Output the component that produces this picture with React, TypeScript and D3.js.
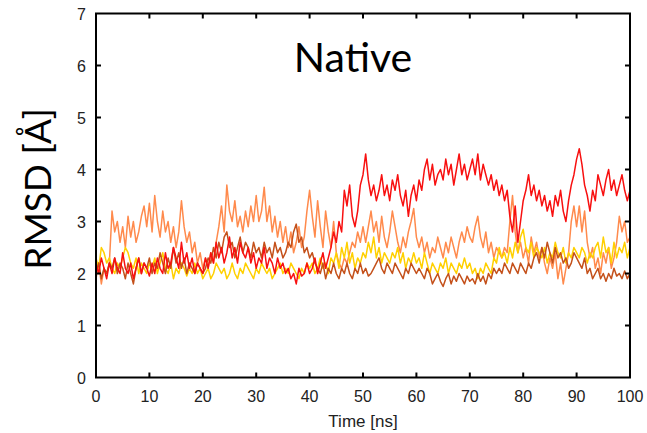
import React from "react";
import * as d3 from "d3";

const step = 0.5;
const xTicks = [0, 10, 20, 30, 40, 50, 60, 70, 80, 90, 100];
const yTicks = [0, 1, 2, 3, 4, 5, 6, 7];

const red = [
  2.2,2.0,2.3,2.1,1.9,2.2,2.0,2.3,2.1,2.0,2.4,2.1,2.0,2.2,1.9,2.1,2.3,2.0,2.2,2.1,1.95,
  2.2,2.0,2.3,2.1,2.0,2.4,2.1,2.2,2.5,2.3,2.1,2.6,2.2,2.4,2.1,2.3,2.0,2.2,2.1,2.0,
  2.3,2.1,2.4,2.2,2.6,2.3,2.5,2.2,2.4,2.7,2.3,2.5,2.2,2.6,2.4,2.3,2.5,2.2,2.4,2.1,
  2.3,2.2,2.5,2.1,2.3,2.2,2.0,2.3,2.1,2.2,2.0,2.1,1.9,2.0,1.8,2.1,1.95,2.0,2.2,2.0,
  2.1,2.3,2.0,2.2,2.4,2.1,2.3,2.5,2.8,2.6,3.0,2.8,3.6,3.3,3.7,3.1,2.9,3.2,3.7,3.9,
  4.3,3.8,3.5,3.7,3.4,3.6,3.9,3.5,3.7,3.4,3.8,3.6,3.9,3.5,3.3,3.6,3.1,3.5,3.7,3.4,
  3.8,3.6,4.0,4.2,3.8,4.1,3.7,3.9,4.0,3.8,4.2,3.9,4.1,3.7,4.0,4.3,3.9,4.1,3.8,4.0,
  4.2,3.9,4.3,3.8,4.1,3.9,3.7,3.9,3.6,3.8,3.5,3.7,3.4,3.6,3.1,2.8,3.3,2.6,3.0,3.4,
  3.6,3.9,3.5,3.7,3.4,3.6,3.3,3.5,3.2,3.4,3.1,3.5,3.3,3.6,3.2,3.0,3.4,3.7,3.9,4.2,
  4.4,4.1,3.7,3.5,3.2,3.6,3.4,3.9,3.7,3.5,3.8,4.0,3.6,3.8,3.5,3.7,3.9,3.6,3.4,3.6,
];

const orange = [
  1.9,2.2,1.8,2.1,2.0,2.2,3.2,2.8,3.0,2.6,2.9,2.5,3.1,2.7,3.0,2.6,2.8,3.1,3.3,2.9,3.35,
  2.8,3.5,3.0,2.7,3.2,2.8,3.0,2.6,2.9,2.5,2.8,3.4,2.9,2.6,2.8,2.4,2.6,2.2,2.4,2.1,
  2.3,2.1,2.4,2.2,2.6,2.9,3.3,2.8,3.7,3.2,3.0,3.4,2.9,3.1,2.8,3.2,2.9,3.3,3.0,3.5,
  3.0,3.2,3.66,3.0,3.3,2.8,3.1,2.7,3.0,2.6,2.9,2.5,2.8,2.4,2.6,2.9,2.5,2.7,3.2,3.6,
  3.1,2.7,3.4,2.9,2.5,3.2,2.8,2.5,3.0,2.4,2.2,2.1,2.3,2.2,2.4,2.6,2.5,2.8,2.6,2.9,
  2.6,2.9,3.2,2.8,3.0,2.6,3.1,2.7,2.5,2.8,3.2,2.9,2.6,2.4,2.7,2.5,2.8,3.0,3.25,2.7,
  2.5,2.7,2.4,2.6,2.3,2.5,2.4,2.7,2.5,2.3,2.6,2.4,2.7,2.5,2.3,2.6,2.8,2.6,2.9,2.7,
  2.6,2.9,3.1,2.7,2.5,2.8,2.4,2.6,2.3,2.5,2.4,2.3,2.5,2.4,3.0,3.5,2.8,2.4,2.6,2.3,
  2.5,2.2,2.7,2.4,2.6,2.3,2.5,2.2,2.0,2.3,2.1,2.4,1.9,2.2,1.8,2.1,2.4,3.0,3.3,2.9,
  3.3,2.8,3.2,2.6,2.3,2.5,2.1,2.3,2.0,2.4,2.2,2.5,2.1,2.3,2.6,3.1,2.8,3.0,2.6,2.7,
];

const yellow = [
  2.3,2.1,2.5,2.4,2.2,2.3,2.1,2.0,2.2,2.1,2.3,2.5,2.4,2.2,2.1,2.3,2.0,2.2,2.1,2.0,2.2,
  2.1,2.3,2.0,2.2,2.4,2.1,2.0,2.2,1.9,2.1,2.0,2.2,2.1,1.95,2.1,2.0,2.2,2.0,2.1,1.9,
  2.0,2.1,1.9,2.0,2.2,2.1,2.0,2.1,1.9,2.0,2.2,2.0,1.9,2.1,2.0,2.2,2.1,2.0,1.9,2.1,
  2.0,2.2,2.1,2.0,2.1,1.9,2.0,2.1,2.2,2.0,2.1,2.0,2.2,2.1,2.0,1.9,2.1,2.0,2.2,2.1,
  2.2,2.0,2.1,2.3,2.1,2.2,2.0,2.3,2.2,2.4,2.1,2.5,2.3,2.6,2.2,2.4,2.1,2.3,2.2,2.4,
  2.3,2.6,2.4,2.7,2.3,2.5,2.2,2.4,2.3,2.2,2.4,2.3,2.5,2.2,2.4,2.1,2.3,2.2,2.4,2.2,
  2.3,2.1,2.4,2.2,2.0,2.2,2.1,2.0,2.2,2.1,2.3,2.0,2.2,2.1,2.0,2.2,2.1,2.3,2.1,2.2,
  2.0,2.1,1.9,2.1,2.0,2.2,2.1,2.0,2.3,2.2,2.5,2.3,2.4,2.2,2.5,2.3,2.6,2.4,2.7,2.85,
  2.5,2.4,2.6,2.3,2.5,2.4,2.3,2.5,2.2,2.4,2.3,2.6,2.4,2.3,2.5,2.2,2.4,2.3,2.5,2.4,
  2.3,2.5,2.4,2.2,2.4,2.3,2.5,2.6,2.3,2.7,2.4,2.5,2.2,2.6,2.3,2.5,2.4,2.6,2.3,2.5,
];

const brown = [
  2.0,2.2,1.9,2.1,2.0,2.2,2.1,2.3,2.0,2.2,2.1,1.9,2.2,2.0,1.8,2.1,2.3,2.0,2.2,2.1,2.3,
  2.0,2.2,2.1,2.4,2.2,2.0,2.3,2.1,2.5,2.2,2.4,2.1,2.3,2.0,2.2,2.1,2.0,2.2,2.1,2.0,
  2.1,2.3,2.2,2.5,2.3,2.6,2.4,2.7,2.8,2.5,2.6,2.3,2.5,2.7,2.4,2.6,2.5,2.3,2.6,2.4,
  2.5,2.3,2.6,2.4,2.5,2.3,2.6,2.4,2.5,2.3,2.4,2.6,2.5,2.8,2.95,2.6,2.7,2.4,2.5,2.3,
  2.4,2.2,2.1,2.0,2.2,1.9,2.1,2.0,2.2,2.0,1.9,2.1,2.0,2.2,2.0,1.9,2.1,2.0,2.2,2.0,
  2.1,1.95,2.0,2.1,2.2,2.3,2.1,2.0,2.2,2.1,2.0,2.2,2.1,2.0,1.9,2.1,2.0,2.2,2.1,2.0,
  2.1,2.0,1.9,2.1,2.0,1.8,1.9,2.0,1.85,1.75,1.9,2.0,1.8,1.95,1.85,2.0,1.9,1.8,1.95,1.85,
  1.9,1.8,2.0,1.85,1.95,1.8,2.0,1.9,2.1,2.0,2.1,2.0,2.2,2.1,2.0,2.2,2.1,2.0,2.2,2.1,
  2.0,2.2,2.1,2.3,2.4,2.2,2.5,2.3,2.6,2.4,2.2,2.5,2.3,2.4,2.2,2.3,2.1,2.2,2.4,2.3,
  2.2,2.1,2.3,2.0,2.1,1.9,2.0,2.1,1.9,2.0,1.85,2.0,1.9,2.1,1.95,2.0,1.9,2.05,1.9,2.0,
];

const seriesList = [
  { name: "orange", values: orange, color: "#ff8a4c" },
  { name: "yellow", values: yellow, color: "#ffd000" },
  { name: "brown", values: brown, color: "#c4501a" },
  { name: "red", values: red, color: "#f81010" },
];

const W = 647, H = 433;
const L = 96, R = 630, T = 13.5, B = 377.5;
const tickFont = "'Liberation Sans', Arial, Helvetica, sans-serif";
const titleFont = "Lato, 'Open Sans', sans-serif";

export default function App() {
  const x = d3.scaleLinear().domain([0, 100]).range([L, R]);
  const y = d3.scaleLinear().domain([0, 7]).range([B, T]);
  const line = d3
    .line<number>()
    .x((_, i) => x(i * step))
    .y((v) => y(v));

  return (
    <svg width={W} height={H} style={{ position: "absolute", left: 0, top: 0, background: "#fff" }}>
      <rect x={0} y={0} width={W} height={H} fill="#fff" />
      <defs>
        <clipPath id="plot">
          <rect x={L} y={T} width={R - L} height={B - T} />
        </clipPath>
      </defs>
      <g clipPath="url(#plot)">
        {seriesList.map((s) => (
          <path key={s.name} d={line(s.values) || ""} fill="none" stroke={s.color} strokeWidth={1.5} strokeLinejoin="round" />
        ))}
      </g>
      <rect x={L} y={T} width={R - L} height={B - T} fill="none" stroke="#000" strokeWidth={2} />
      {xTicks.map((t) => (
        <g key={"x" + t}>
          {t > 0 && t < 100 && (
            <>
              <line x1={x(t)} x2={x(t)} y1={B} y2={B - 5} stroke="#000" strokeWidth={2} />
              <line x1={x(t)} x2={x(t)} y1={T} y2={T + 5} stroke="#000" strokeWidth={2} />
            </>
          )}
          <text x={x(t)} y={402} textAnchor="middle" fontFamily={tickFont} fontSize={16} fill="#222">
            {t}
          </text>
        </g>
      ))}
      {yTicks.map((t) => (
        <g key={"y" + t}>
          {t > 0 && t < 7 && (
            <>
              <line x1={L} x2={L + 5} y1={y(t)} y2={y(t)} stroke="#000" strokeWidth={2} />
              <line x1={R} x2={R - 5} y1={y(t)} y2={y(t)} stroke="#000" strokeWidth={2} />
            </>
          )}
          <text x={86} y={y(t) + 6} textAnchor="end" fontFamily={tickFont} fontSize={16} fill="#222">
            {t}
          </text>
        </g>
      ))}
      <text x={363} y={427} textAnchor="middle" fontFamily={tickFont} fontSize={17} fill="#222">
        Time [ns]
      </text>
      <text
        transform={`translate(51, 189) rotate(-90)`}
        textAnchor="middle"
        fontFamily={titleFont}
        fontSize={37}
        fill="#000"
      >
        RMSD [Å]
      </text>
      <text x={353} y={72} textAnchor="middle" fontFamily={titleFont} fontSize={41} fill="#000">
        Native
      </text>
    </svg>
  );
}
